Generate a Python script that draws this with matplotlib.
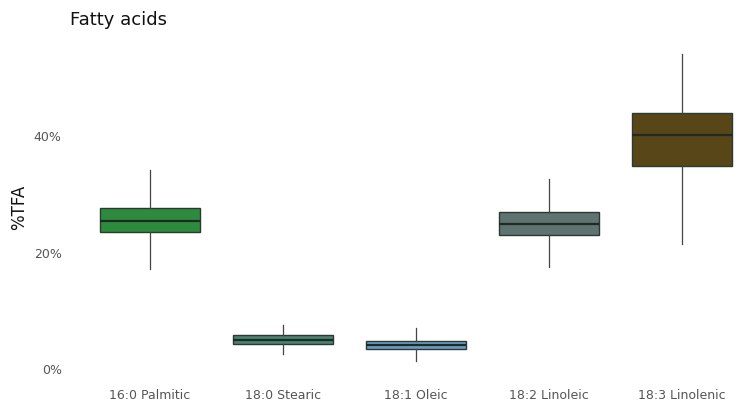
import matplotlib.pyplot as plt
from matplotlib.ticker import FuncFormatter

# 箱线图数据（%TFA），读自原图
acids = ["16:0 Palmitic", "18:0 Stearic", "18:1 Oleic", "18:2 Linoleic", "18:3 Linolenic"]
whisk_lo = [17.2, 2.7, 1.4, 17.5, 21.5]
q1 = [23.5, 4.4, 3.4, 23.0, 34.9]
med = [25.4, 5.1, 4.2, 25.0, 40.2]
q3 = [27.6, 5.8, 4.9, 27.0, 43.9]
whisk_hi = [34.1, 7.6, 7.1, 32.7, 54.0]
fills = ["#2e8b3e", "#4a8270", "#6a9cc4", "#5f7371", "#584619"]

stats = []
for i, name in enumerate(acids):
    stats.append({"label": name, "whislo": whisk_lo[i], "q1": q1[i], "med": med[i],
                  "q3": q3[i], "whishi": whisk_hi[i], "fliers": []})

fig = plt.figure(figsize=(7.43, 4.11), dpi=100)
ax = fig.add_axes([70 / 743, 1 - 378 / 411, 673 / 743, 341 / 411])

bp = ax.bxp(stats, positions=range(1, 6), widths=0.75, patch_artist=True,
            showcaps=False,
            boxprops=dict(edgecolor="#2a3a30", linewidth=1.0),
            medianprops=dict(color="#1f2a22", linewidth=1.6),
            whiskerprops=dict(color="#444444", linewidth=0.9))
for patch, c in zip(bp["boxes"], fills):
    patch.set_facecolor(c)

ax.set_xlim(0.4, 5.46)
ax.set_ylim(-1.5, 57)
ax.set_yticks([0, 20, 40])
ax.yaxis.set_major_formatter(FuncFormatter(lambda v, p: f"{v:.0f}%"))
ax.set_xticks(range(1, 6))
ax.set_xticklabels(acids)
ax.tick_params(length=0, labelsize=9, labelcolor="#555555", pad=8)
ax.tick_params(axis="y", pad=6)
for s in ax.spines.values():
    s.set_visible(False)

ax.set_ylabel("%TFA", fontsize=12, color="#111111")
ax.yaxis.set_label_coords(-42 / 673, 0.5)
fig.text(70 / 743, 1 - 20 / 411, "Fatty acids", fontsize=13, va="center", ha="left", color="#111111")

fig.savefig("out.png", dpi=100)
